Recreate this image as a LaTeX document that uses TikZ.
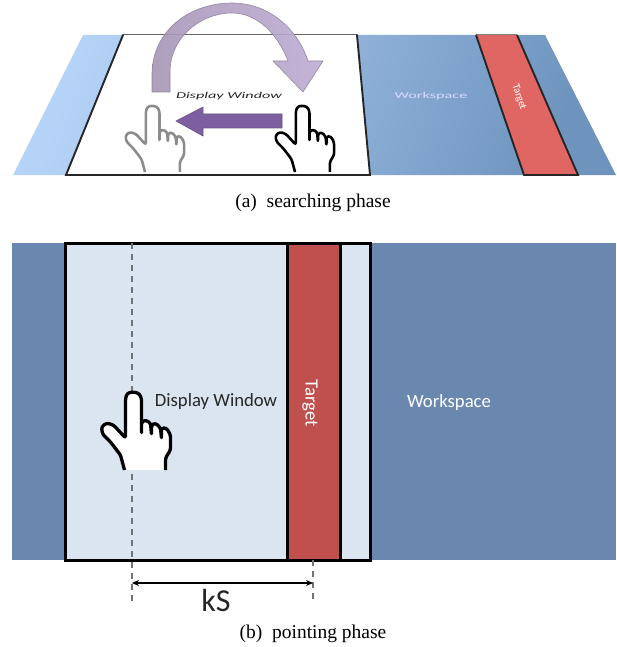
\documentclass[tikz,border=0pt]{standalone}
\usepackage{fontspec}
\setmainfont{Liberation Serif}
\newfontfamily\labelfont{Carlito}
\usetikzlibrary{arrows.meta}

\tikzset{
  edge/.style={line width=3pt, line join=miter},
  upperedge/.style={line width=1.9pt, black!85},
  caption/.style={font=\fontsize{19.5}{22}\selectfont},
  fingerhand/.pic={
    \path[pic actions, fill=white, rounded corners=2.4pt, line join=round]
      (0,0) -- (-4,-15) -- (-14,-28) -- (-22,-36) -- (-23,-43) -- (-18,-47) -- (-11,-45)
      -- (1,-32) -- (1,-72) -- (3,-77) -- (8,-78) -- (14,-77) -- (17,-72) -- (17,-36)
      -- (17,-48) -- (21,-50) -- (26,-47) -- (27,-35)
      -- (27,-45) -- (31,-47) -- (36,-42) -- (37,-31)
      -- (37,-42) -- (42,-42) -- (46,-35) -- (46,-20) -- (41,-12) -- (41,0);
  }
}

\begin{document}
\begin{tikzpicture}[x=1pt, y=-1pt, line cap=butt]

% Colors
\definecolor{workspace}{RGB}{106,136,175}
\definecolor{window}{RGB}{219,229,241}
\definecolor{target}{RGB}{192,80,77}
\definecolor{targetlight}{RGB}{224,102,100}
\definecolor{arrowlight}{RGB}{190,172,212}
\definecolor{arrowgrey}{RGB}{166,150,182}
\definecolor{arrowdark}{RGB}{125,95,159}
\definecolor{bandlight}{RGB}{181,211,247}
\definecolor{bandshade}{RGB}{110,148,190}

\useasboundingbox (0,0) rectangle (616,647);

% Searching phase, workspace seen at a slant
\shade[shading=axis, left color=bandlight, right color=bandshade, shading angle=70]
  (83,35) -- (545,35) -- (616,175) -- (13,175) -- cycle;
\fill[white] (123,35) -- (357,35) -- (370,175) -- (66,175) -- cycle;
\draw[upperedge, black!60, line width=1pt] (123,35) -- (357,35);
\draw[upperedge, line cap=round] (123,35) -- (66,175) -- (370,175) -- (357,35);

\fill[targetlight] (476,35) -- (517,35) -- (578,175) -- (524,175) -- cycle;
\draw[upperedge, black!50, line width=1pt] (476,35) -- (517,35);
\draw[upperedge] (476,35) -- (524,175) -- (578,175) -- (517,35);

\node[font=\labelfont\fontsize{9}{10}\selectfont\itshape, xscale=1.8, transform shape, black!85] (windowtop) at (229,96) {Display Window};
\node[font=\labelfont\fontsize{9}{10}\selectfont, xscale=1.8, transform shape, white!85!blue] (spacetop) at (431,96) {Workspace};
\node[font=\labelfont\fontsize{10.5}{11}\selectfont, rotate=-72, white] (targettop) at (519,97) {Target};

% Hands and moves
\pic[draw=black!45, scale=.85, line width=2.6pt] at (145,172) {fingerhand};
\pic[draw=black, scale=.85, line width=2.6pt] at (295,172) {fingerhand};

\shade[left color=arrowgrey, right color=arrowlight, draw=arrowgrey!85!black, line width=0.6pt, opacity=0.9]
  (152,92) -- (152,73) .. controls (153,30) and (190,3) .. (232,3)
  .. controls (270,3) and (298,30) .. (308,61) -- (323,61) -- (303,92) -- (273,61) -- (288,61)
  .. controls (278,35) and (258,13) .. (232,13)
  .. controls (200,13) and (170,38) .. (170,72) -- (170,92) -- cycle;
\draw[fill=arrowdark, draw=arrowdark!85!black, line width=0.6pt]
  (282,114) -- (203,114) -- (203,107) -- (176,121) -- (203,136) -- (203,128) -- (282,128) -- cycle;

\node[caption] (captiona) at (313,203) {(a)\ \ searching phase};

% Pointing phase
\fill[workspace] (12,243) rectangle (616,560);
\fill[window] (65,243) rectangle (370,560);
\fill[target] (287,243) rectangle (340,560);
\draw[edge] (287,243) -- (287,560) (340,243) -- (340,560);
\draw[edge] (65,243) rectangle (370,560);

\node[font=\labelfont\fontsize{18.7}{20}\selectfont, black!85] (windowlabel) at (216,402) {Display Window};
\node[font=\labelfont\fontsize{18.7}{20}\selectfont, white] (spacelabel) at (449,403) {Workspace};
\node[font=\labelfont\fontsize{18.7}{20}\selectfont, white, rotate=-90] (targetlabel) at (310,403) {Target};

% Distance to the target
\coordinate (handtop) at (132,243);
\coordinate (handbot) at (132,602);
\coordinate (targettopline) at (313,560);
\coordinate (targetbot) at (313,603);
\coordinate (arrowleft) at (132,583);
\coordinate (arrowright) at (313,583);
\draw[black!55, line width=1.2pt, dash pattern=on 6pt off 5pt] (handtop) -- (handbot);
\draw[black!55, line width=1.2pt, dash pattern=on 6pt off 5pt] (targettopline) -- (targetbot);
\draw[{Stealth[length=7pt,width=6pt]}-{Stealth[length=7pt,width=6pt]}, line width=1.1pt] (arrowleft) -- (arrowright);
\node[font=\labelfont\fontsize{32}{34}\selectfont, black!85] (kslabel) at (216,600) {kS};

\pic[draw=black, line width=3.3pt] at (124.5,470) {fingerhand};

\node[caption] (captionb) at (313,634) {(b)\ \ pointing phase};

\end{tikzpicture}
\end{document}
